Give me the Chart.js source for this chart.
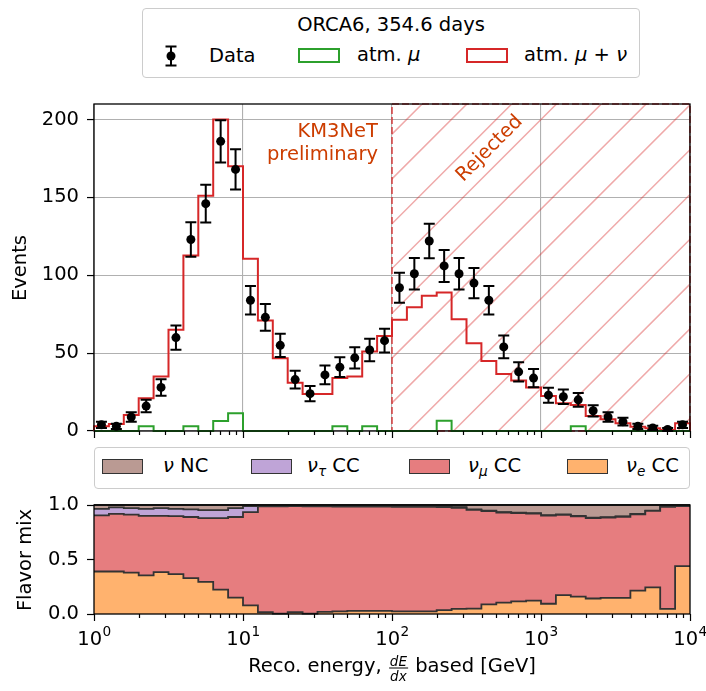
<!DOCTYPE html>
<html><head><meta charset="utf-8">
<script src="https://cdn.jsdelivr.net/npm/chart.js@4.4.1/dist/chart.umd.min.js"></script>
<style>
html,body{margin:0;padding:0;background:#fff;}
body{width:706px;height:691px;position:relative;overflow:hidden;font-family:'DejaVu Sans',sans-serif;color:#000;}
.abs{position:absolute;white-space:nowrap;}
canvas{position:absolute;left:0;}
i{font-style:italic;}
.t{font-size:19.5px;line-height:24px;}
.box{position:absolute;box-sizing:border-box;border:1.4px solid #cccccc;border-radius:4px;background:#fff;}
.patch{position:absolute;box-sizing:border-box;}
sub{font-size:70%;vertical-align:-0.3em;line-height:0;}
.frac{display:inline-block;vertical-align:-0.62em;text-align:center;font-size:13.5px;line-height:14px;font-style:italic;margin:0 1px;}
.frac .n{display:block;border-bottom:1.2px solid #000;padding:0 1px;}
.frac .d{display:block;padding:0 1px;}
</style></head><body>
<canvas id="topc" width="706" height="461" style="top:0;width:706px;height:461px"></canvas>
<canvas id="botc" width="706" height="206" style="top:485px;width:706px;height:206px"></canvas>

<!-- legend 1 -->
<div class="box" style="left:142px;top:8px;width:498px;height:70px;"></div>
<div class="abs t" style="left:391px;top:13px;transform:translateX(-50%);">ORCA6, 354.6 days</div>
<svg class="abs" style="left:163px;top:44px" width="16" height="24"><path d="M8 2.5V21.5M2.5 2.5H13.5M2.5 21.5H13.5" stroke="#000" stroke-width="2" fill="none"/><circle cx="8" cy="12" r="4.5" fill="#000"/></svg>
<div class="abs t" style="left:209px;top:44px;">Data</div>
<div class="patch" style="left:298px;top:48px;width:42px;height:15px;border:2px solid #2ca02c;"></div>
<div class="abs t" style="left:357px;top:43px;">atm. <i>μ</i></div>
<div class="patch" style="left:466px;top:48px;width:42px;height:15px;border:2px solid #d62728;"></div>
<div class="abs t" style="left:524px;top:43px;">atm. <i>μ</i> + <i>ν</i></div>

<!-- annotations -->
<div class="abs t" style="right:328px;top:119px;color:#cc3d00;text-align:right;line-height:23px;">KM3NeT<br>preliminary</div>
<div class="abs t" style="left:489px;top:148px;color:#cc3d00;transform:translate(-50%,-50%) rotate(-45deg);">Rejected</div>

<!-- y titles -->
<div class="abs t" style="left:19.5px;top:267.5px;transform:translate(-50%,-50%) rotate(-90deg);">Events</div>
<div class="abs t" style="left:25px;top:559.5px;transform:translate(-50%,-50%) rotate(-90deg);">Flavor mix</div>

<!-- legend 2 -->
<div class="box" style="left:94px;top:447px;width:596px;height:42px;"></div>
<div class="patch" style="left:102px;top:459px;width:41px;height:15px;background:#ba9a93;border:1.6px solid #333;"></div>
<div class="abs t" style="left:163px;top:454px;"><i>ν</i> NC</div>
<div class="patch" style="left:251px;top:459px;width:41px;height:15px;background:#bfa4d7;border:1.6px solid #333;"></div>
<div class="abs t" style="left:307px;top:454px;"><i>ν</i><sub><i>τ</i></sub> CC</div>
<div class="patch" style="left:409px;top:459px;width:41px;height:15px;background:#e67d7f;border:1.6px solid #333;"></div>
<div class="abs t" style="left:468px;top:454px;"><i>ν</i><sub><i>μ</i></sub> CC</div>
<div class="patch" style="left:567px;top:459px;width:41px;height:15px;background:#ffb26e;border:1.6px solid #333;"></div>
<div class="abs t" style="left:626px;top:454px;"><i>ν</i><sub><i>e</i></sub> CC</div>

<!-- x title -->
<div class="abs t" style="left:392px;top:668px;transform:translate(-50%,-50%);">Reco. energy, <span class="frac"><span class="n">dE</span><span class="d">dx</span></span> based [GeV]</div>

<script>
// ---------------- DATA ----------------
const binEdgesLog10 = [0.0,0.1,0.2,0.3,0.4,0.5,0.6,0.7,0.8,0.9,1.0,1.1,1.2,1.3,1.4,1.5,1.6,1.7,1.8,1.9,2.0,
  2.1,2.2,2.3,2.4,2.5,2.6,2.7,2.8,2.9,3.0,3.1,3.2,3.3,3.4,3.5,3.6,3.7,3.8,3.9,4.0];
const dataCounts = [4,3,9,16,28,60,123,146,186,168,84,73,55,33,24,36,41,47,52,58,
  92,101,122,106,101,95,84,54,38,34,23,22,20,13,9,6,3,2,1,4];
const dataErrors = [2,1.73,3,4,5.29,7.75,11.09,12.08,13.64,12.96,9.17,8.54,7.42,5.74,4.9,6,6.4,6.86,7.21,7.62,
  9.59,10.05,11.05,10.3,10.05,9.75,9.17,7.35,6.16,5.83,4.8,4.69,4.47,3.61,3,2.45,1.73,1.41,1,2];
const atmMuNu = [3,4.5,10.3,21,35,65,112.7,151,200,170,110.6,71,46.7,31,23.8,23.8,34,35,51,61,
  71.4,79.5,86.8,89,71.8,56.4,45,36.6,32.4,28,22.5,17.8,16.7,9.6,7.5,5,2.8,1.7,0.6,5];
const atmMu = [0,0,0,3,0,0,3,0,6.4,11.4,0,0,0,0,0,0,3,0,3,0,
  0,0,0,6.6,0,0,0,0,0,0,0,0,3,0,0,0,0,0,0,0];
const fracNuE = [0.39,0.39,0.38,0.355,0.385,0.365,0.33,0.295,0.223,0.15,0.079,0.016,0.003,0.016,0.003,0.019,0.025,0.028,0.028,0.028,
  0.025,0.025,0.025,0.035,0.047,0.05,0.088,0.104,0.116,0.122,0.094,0.173,0.16,0.142,0.148,0.148,0.214,0.245,0.047,0.44];
const fracNuMu = [0.515,0.528,0.532,0.545,0.515,0.533,0.56,0.585,0.657,0.74,0.855,0.972,0.985,0.974,0.985,0.969,0.961,0.958,0.958,0.957,
  0.959,0.959,0.959,0.945,0.928,0.905,0.855,0.827,0.809,0.799,0.808,0.736,0.736,0.738,0.737,0.744,0.701,0.701,0.937,0.55];
const fracNuTau = [0.06,0.06,0.06,0.065,0.072,0.067,0.069,0.073,0.073,0.082,0.056,0.007,0.006,0.005,0.006,0.006,0.007,0.007,0.006,0.007,
  0.006,0.006,0.005,0.006,0.005,0.005,0.005,0.004,0.004,0.004,0.004,0.004,0.004,0.004,0.004,0.004,0.003,0.003,0.003,0.002];
const fracNC = [0.035,0.022,0.028,0.035,0.028,0.035,0.041,0.047,0.047,0.028,0.01,0.005,0.006,0.005,0.006,0.006,0.007,0.007,0.008,0.008,
  0.01,0.01,0.011,0.014,0.02,0.04,0.052,0.065,0.071,0.075,0.094,0.087,0.1,0.116,0.111,0.104,0.082,0.051,0.013,0.008];
const rejectedFrom = 100;
const yTopTicks = [0,50,100,150,200];
const yBotTicks = [0,0.5,1.0];
const yBotTickLabels = ['0.0','0.5','1.0'];
const xMajorTicks = [1,10,100,1000,10000];
const xMajorExponents = ['0','1','2','3','4'];
const xMinorMultipliers = [2,3,4,5,6,7,8,9];

// ---------------- HELPERS ----------------
const FONT = 'DejaVu Sans';
const edges = binEdgesLog10.map(v => Math.pow(10, v));
const centers = edges.slice(0, -1).map((e, i) => Math.sqrt(e * edges[i + 1]));
const allXTicks = [];
xMajorTicks.forEach((m, k) => {
  allXTicks.push({value: m, major: true});
  if (k < xMajorTicks.length - 1) xMinorMultipliers.forEach(mm => allXTicks.push({value: m * mm, major: false}));
});
function stepPoints(vals, withBase) {
  const pts = [];
  if (withBase) pts.push({x: edges[0], y: 0});
  vals.forEach((v, i) => pts.push({x: edges[i], y: v}));
  pts.push({x: edges[edges.length - 1], y: vals[vals.length - 1]});
  if (withBase) pts.push({x: edges[edges.length - 1], y: 0});
  return pts;
}
const isMajor = v => xMajorTicks.some(m => Math.abs(m - v) < 1e-9 * m);

const frameAndTicks = {
  id: 'frameAndTicks',
  afterDraw(chart) {
    const ctx = chart.ctx, a = chart.chartArea, xs = chart.scales.x;
    ctx.save();
    ctx.strokeStyle = '#000';
    ctx.lineWidth = 1.2;
    ctx.beginPath();
    allXTicks.forEach(t => {
      const px = Math.round(xs.getPixelForValue(t.value)) + 0.5;
      ctx.moveTo(px, a.bottom);
      ctx.lineTo(px, a.bottom + (t.major ? 7 : 4));
    });
    ctx.stroke();
    ctx.lineWidth = 1.3;
    ctx.strokeRect(a.left, a.top, a.right - a.left, a.bottom - a.top);
    ctx.restore();
  }
};

const hatchPlugin = {
  id: 'hatch',
  beforeDatasetsDraw(chart) {
    const ctx = chart.ctx, a = chart.chartArea, xs = chart.scales.x;
    const x0 = xs.getPixelForValue(rejectedFrom);
    ctx.save();
    ctx.beginPath();
    ctx.rect(x0, a.top, a.right - x0, a.bottom - a.top);
    ctx.clip();
    ctx.strokeStyle = 'rgba(214,39,40,0.4)';
    ctx.lineWidth = 1.5;
    ctx.beginPath();
    const sp = 44.8, phase = 33.3;
    for (let c = phase; c < a.right + a.bottom + sp; c += sp) {
      if (c < x0 + a.top - sp) continue;
      ctx.moveTo(c - a.top + 2, a.top - 2);
      ctx.lineTo(c - a.bottom - 2, a.bottom + 2);
    }
    ctx.stroke();
    ctx.restore();
    ctx.save();
    ctx.setLineDash([7, 3]);
    ctx.strokeStyle = 'rgba(214,39,40,0.65)';
    ctx.lineWidth = 2;
    ctx.strokeRect(x0, a.top, a.right - x0, a.bottom - a.top);
    ctx.restore();
  }
};

const errorBars = {
  id: 'errorBars',
  afterDatasetsDraw(chart) {
    const ctx = chart.ctx, xs = chart.scales.x, ys = chart.scales.y;
    ctx.save();
    ctx.strokeStyle = '#000';
    ctx.lineWidth = 2;
    ctx.beginPath();
    dataCounts.forEach((v, i) => {
      const px = xs.getPixelForValue(centers[i]);
      const y1 = ys.getPixelForValue(v - dataErrors[i]);
      const y2 = ys.getPixelForValue(v + dataErrors[i]);
      ctx.moveTo(px, y1); ctx.lineTo(px, y2);
      ctx.moveTo(px - 5.5, y1); ctx.lineTo(px + 5.5, y1);
      ctx.moveTo(px - 5.5, y2); ctx.lineTo(px + 5.5, y2);
    });
    ctx.stroke();
    ctx.restore();
  }
};

const xLabels = {
  id: 'xLabels',
  afterDraw(chart) {
    const ctx = chart.ctx, a = chart.chartArea, xs = chart.scales.x;
    ctx.save();
    ctx.fillStyle = '#000';
    ctx.textBaseline = 'alphabetic';
    ctx.textAlign = 'left';
    xMajorTicks.forEach((v, k) => {
      const px = xs.getPixelForValue(v);
      ctx.font = '19.5px "' + FONT + '"';
      const wb = ctx.measureText('10').width;
      ctx.font = '13.7px "' + FONT + '"';
      const we = ctx.measureText(xMajorExponents[k]).width;
      const x0 = px - (wb + we) / 2;
      ctx.font = '19.5px "' + FONT + '"';
      ctx.fillText('10', x0, a.bottom + 31);
      ctx.font = '13.7px "' + FONT + '"';
      ctx.fillText(xMajorExponents[k], x0 + wb + 0.5, a.bottom + 22);
    });
    ctx.restore();
  }
};

const commonX = {
  type: 'logarithmic', min: 1, max: 10000,
  afterBuildTicks: s => { s.ticks = allXTicks.map(t => ({value: t.value})); },
  ticks: {display: false, autoSkip: false},
  border: {display: false}
};

// ---------------- TOP CHART ----------------
new Chart(document.getElementById('topc'), {
  type: 'line',
  data: {
    datasets: [
      {label: 'Data', data: dataCounts.map((v, i) => ({x: centers[i], y: v})), showLine: false,
       pointRadius: 4.5, pointBackgroundColor: '#000', pointBorderColor: '#000', pointBorderWidth: 0, order: 0},
      {label: 'atm. mu + nu', data: stepPoints(atmMuNu, true), stepped: true, borderColor: '#d62728',
       borderWidth: 2, pointRadius: 0, fill: false, order: 2, clip: 3},
      {label: 'atm. mu', data: stepPoints(atmMu, true), stepped: true, borderColor: '#2ca02c',
       borderWidth: 2, pointRadius: 0, fill: false, order: 1, clip: 3}
    ]
  },
  options: {
    responsive: false, animation: false, devicePixelRatio: 1, events: [],
    layout: {padding: {left: 0, top: 104, right: 16, bottom: 0}},
    plugins: {legend: {display: false}, tooltip: {enabled: false}},
    scales: {
      x: Object.assign({}, commonX, {
        afterFit: s => { s.height = 30; },
        grid: {drawTicks: false, lineWidth: 1.1,
          color: c => (c.tick && isMajor(c.tick.value)) ? '#b0b0b0' : 'rgba(0,0,0,0)'}
      }),
      y: {
        min: 0, max: 210,
        afterBuildTicks: s => { s.ticks = yTopTicks.map(v => ({value: v})); },
        afterFit: s => { s.width = 94; },
        border: {display: false},
        grid: {color: '#b0b0b0', lineWidth: 1.1, drawTicks: true, tickLength: 7, tickColor: '#000', tickWidth: 1.2},
        ticks: {color: '#000', font: {family: FONT, size: 19.5}, padding: 8}
      }
    }
  },
  plugins: [hatchPlugin, errorBars, frameAndTicks]
});

// ---------------- BOTTOM CHART ----------------
const fracs = [fracNuE, fracNuMu, fracNuTau, fracNC];
const fills = ['#ffb26e', '#e67d7f', '#bfa4d7', '#ba9a93'];
const cum = [];
fracs.forEach((f, k) => cum.push(f.map((v, i) => v + (k ? cum[k - 1][i] : 0))));
new Chart(document.getElementById('botc'), {
  type: 'line',
  data: {
    datasets: cum.map((c, k) => ({
      label: ['nu_e CC', 'nu_mu CC', 'nu_tau CC', 'nu NC'][k],
      data: stepPoints(c, false), stepped: true,
      borderColor: '#333333', borderWidth: 1.8, pointRadius: 0,
      backgroundColor: fills[k], fill: k ? '-1' : 'origin', clip: 2
    }))
  },
  options: {
    responsive: false, animation: false, devicePixelRatio: 1, events: [],
    layout: {padding: {left: 0, top: 20, right: 16, bottom: 0}},
    plugins: {legend: {display: false}, tooltip: {enabled: false}, filler: {propagate: false}},
    scales: {
      x: Object.assign({}, commonX, {
        afterFit: s => { s.height = 77; },
        grid: {display: false}
      }),
      y: {
        min: 0, max: 1.0,
        afterBuildTicks: s => { s.ticks = yBotTicks.map(v => ({value: v})); },
        afterFit: s => { s.width = 94; },
        border: {display: false},
        grid: {drawOnChartArea: false, drawTicks: true, tickLength: 7, tickColor: '#000', tickWidth: 1.2},
        ticks: {color: '#000', font: {family: FONT, size: 19.5}, padding: 8,
          callback: (v) => yBotTickLabels[yBotTicks.indexOf(v)]}
      }
    }
  },
  plugins: [frameAndTicks, xLabels]
});
</script>
</body></html>
